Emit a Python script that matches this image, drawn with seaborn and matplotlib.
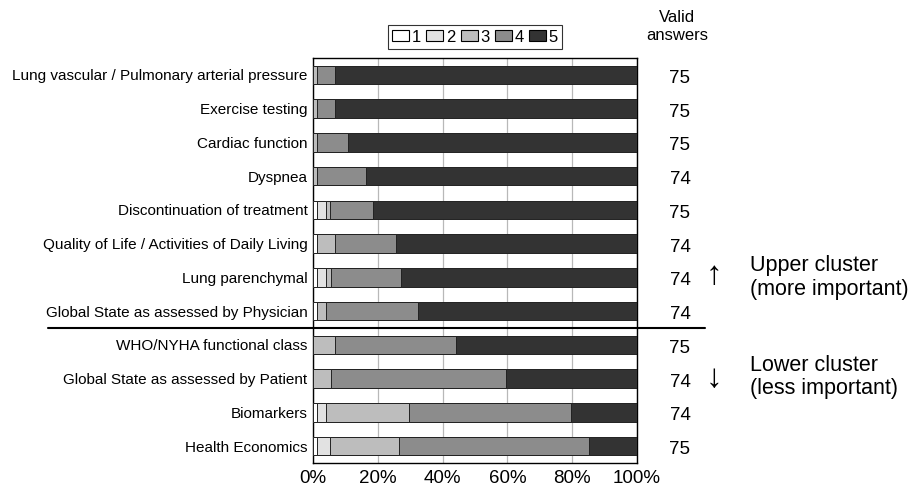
import matplotlib
matplotlib.use("Agg")
import numpy as np
import pandas as pd
import matplotlib.pyplot as plt
import matplotlib.transforms as mtransforms
from matplotlib.patches import Patch
import seaborn as sns

ITEMS = [
    "Lung vascular / Pulmonary arterial pressure",
    "Exercise testing",
    "Cardiac function",
    "Dyspnea",
    "Discontinuation of treatment",
    "Quality of Life / Activities of Daily Living",
    "Lung parenchymal",
    "Global State as assessed by Physician",
    "WHO/NYHA functional class",
    "Global State as assessed by Patient",
    "Biomarkers",
    "Health Economics",
]
# number of answers per score (1 = least important ... 5 = most important)
score1 = [0, 0, 0, 0, 1, 1, 1, 1, 0, 0, 1, 1]
score2 = [0, 0, 0, 0, 2, 0, 2, 0, 0, 0, 2, 3]
score3 = [1, 1, 1, 1, 1, 4, 1, 2, 5, 4, 19, 16]
score4 = [4, 4, 7, 11, 10, 14, 16, 21, 28, 40, 37, 44]
score5 = [70, 70, 67, 62, 61, 55, 54, 50, 42, 30, 15, 11]
VALID = [75, 75, 75, 74, 75, 74, 74, 74, 75, 74, 74, 75]

SCORES = ["1", "2", "3", "4", "5"]
COLORS = ["#ffffff", "#e2e2e2", "#bdbdbd", "#8c8c8c", "#333333"]


def main():
    sns.set_style("white")
    plt.rcParams["font.family"] = ["Liberation Sans", "DejaVu Sans"]
    plt.rcParams["text.color"] = "black"
    plt.rcParams["xtick.color"] = "black"
    plt.rcParams["ytick.color"] = "black"

    counts = np.array([score1, score2, score3, score4, score5], dtype=float)
    pct = counts / np.array(VALID) * 100
    cum = np.cumsum(pct, axis=0)

    fig = plt.figure(figsize=(9.09, 4.86), dpi=100)
    ax = fig.add_axes([313 / 909, 1 - 463 / 486, 324 / 909, 405 / 486])

    # stacked bars: draw cumulative totals from the top score down
    for k in reversed(range(5)):
        df = pd.DataFrame({"item": ITEMS, "value": cum[k]})
        sns.barplot(data=df, x="value", y="item", order=ITEMS, orient="h",
                    color=COLORS[k], saturation=1, edgecolor="#222222",
                    linewidth=0.7, width=0.55, ax=ax, zorder=3)

    ax.set_xlim(0, 100)
    ax.set_xticks([0, 20, 40, 60, 80, 100])
    ax.set_xticklabels(["0%", "20%", "40%", "60%", "80%", "100%"], fontsize=13.5)
    ax.tick_params(axis="y", labelsize=11, length=0, pad=4, labelcolor="black")
    ax.tick_params(axis="x", length=0, pad=5, labelcolor="black")
    ax.set_xlabel("")
    ax.set_ylabel("")
    ax.xaxis.grid(True, color="#b8b8b8", linewidth=0.9)
    ax.set_axisbelow(True)
    for s in ax.spines.values():
        s.set_color("black")
        s.set_linewidth(1.0)

    # cluster separator
    ax.axhline(7.5, xmin=(48 - 313) / 324, xmax=(705 - 313) / 324,
               color="black", linewidth=1.5, clip_on=False, zorder=5)

    trans = mtransforms.blended_transform_factory(ax.transAxes, ax.transData)
    for i, n in enumerate(VALID):
        ax.text((680 - 313) / 324, i + 0.1, str(n), transform=trans,
                ha="center", va="center", fontsize=13.5)

    ax.text((714 - 313) / 324, 5.95, "\u2191", transform=trans,
            ha="center", va="center", fontsize=24)
    ax.text((714 - 313) / 324, 9.0, "\u2193", transform=trans,
            ha="center", va="center", fontsize=24)
    ax.text((750 - 313) / 324, 6.0, "Upper cluster\n(more important)",
            transform=trans, ha="left", va="center", fontsize=15.5,
            linespacing=1.15)
    ax.text((750 - 313) / 324, 8.95, "Lower cluster\n(less important)",
            transform=trans, ha="left", va="center", fontsize=15.5,
            linespacing=1.15)

    fig.text(677 / 909, 1 - 26 / 486, "Valid\nanswers", ha="center",
             va="center", fontsize=12, linespacing=1.25)

    handles = [Patch(facecolor=c, edgecolor="black", linewidth=0.8, label=s)
               for s, c in zip(SCORES, COLORS)]
    leg = fig.legend(handles=handles, loc="center",
                     bbox_to_anchor=(475 / 909, 1 - 37 / 486), ncol=5,
                     fontsize=12, frameon=True, fancybox=False,
                     handlelength=1.0, handleheight=0.7, handletextpad=0.15,
                     columnspacing=0.35, borderpad=0.25, borderaxespad=0)
    leg.get_frame().set_edgecolor("black")
    leg.get_frame().set_linewidth(0.8)

    fig.savefig("out.png", dpi=100)


if __name__ == "__main__":
    main()
